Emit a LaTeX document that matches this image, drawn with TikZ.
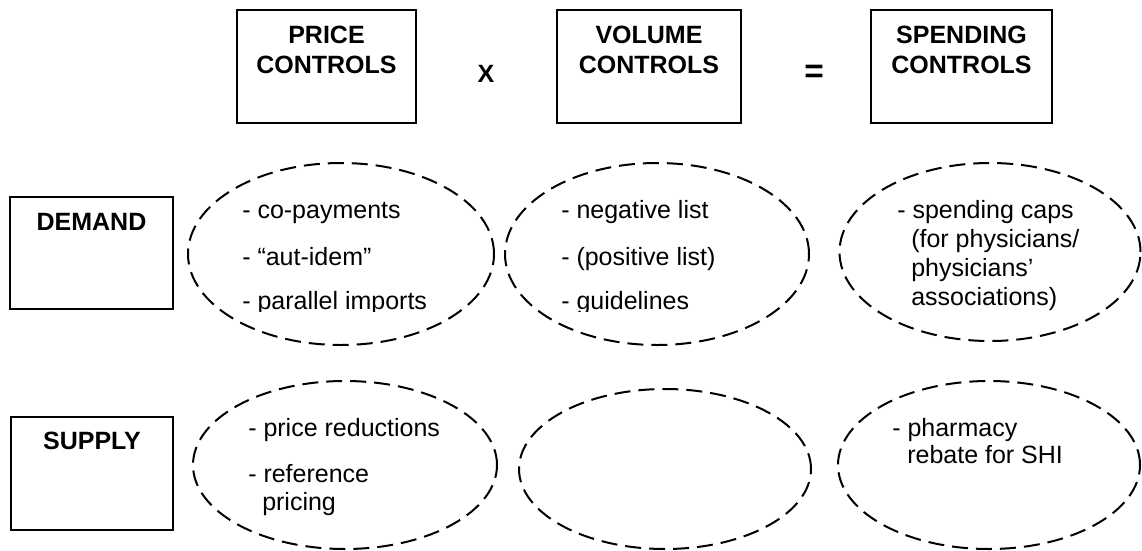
\documentclass[tikz,border=0pt]{standalone}
\usepackage{fontspec}
\setmainfont{Liberation Sans}
\usetikzlibrary{shapes.geometric}
\tikzset{
  box/.style={draw, line width=1.6pt, rectangle, inner sep=0pt, outer sep=0pt},
  ell/.style={draw, line width=1.5pt, ellipse, inner sep=0pt, outer sep=0pt, dash pattern=on 12pt off 6pt},
  txt/.style={anchor=base west, inner sep=0pt, font=\fontsize{18.75}{22}\selectfont},
  hdr/.style={anchor=base, inner sep=0pt, font=\fontsize{18.75}{22}\selectfont\bfseries}
}
\begin{document}
\begin{tikzpicture}[x=0.75pt,y=-0.75pt]
\useasboundingbox (0,0) rectangle (1142,550);
% top boxes
\node[box, minimum width=134.25pt, minimum height=84.75pt] (price) at (326.5,66.5) {};
\node[box, minimum width=138pt, minimum height=84.75pt] (volume) at (649,66.5) {};
\node[box, minimum width=135.75pt, minimum height=84.75pt] (spending) at (961.5,66.5) {};
\node[hdr] (price1) at (326.5,43) {PRICE};
\node[hdr] (price2) at (326.5,73) {CONTROLS};
\node[hdr] (volume1) at (649,43) {VOLUME};
\node[hdr] (volume2) at (649,73) {CONTROLS};
\node[hdr] (spending1) at (961.5,43) {SPENDING};
\node[hdr] (spending2) at (961.5,73) {CONTROLS};
\node[hdr] (times) at (486,82) {X};
\node[hdr, font=\fontsize{25}{28}\selectfont\bfseries] (equals) at (814,82) {=};
% row boxes
\node[box, minimum width=122.25pt, minimum height=84pt] (demand) at (91.5,253) {};
\node[hdr] (demandt) at (91.5,230) {DEMAND};
\node[box, minimum width=121.5pt, minimum height=84.75pt] (supply) at (92,473.5) {};
\node[hdr] (supplyt) at (92,449) {SUPPLY};
% ellipses
\node[ell, minimum width=229.5pt, minimum height=136.5pt] (e1) at (341,254) {};
\node[ell, minimum width=228pt, minimum height=136.5pt] (e2) at (657,254) {};
\node[ell, minimum width=225.75pt, minimum height=133.5pt] (e3) at (990,252) {};
\node[ell, minimum width=228pt, minimum height=126pt] (e4) at (345,465) {};
\node[ell, minimum width=219pt, minimum height=120pt] (e5) at (665,469) {};
\node[ell, minimum width=226.5pt, minimum height=126pt] (e6) at (989,465) {};
% texts
\node[txt] (t11) at (242,218) {- co-payments};
\node[txt] (t12) at (242,265) {- “aut-idem”};
\node[txt] (t21) at (561,218) {- negative list};
\node[txt] (t22) at (561,265) {- (positive list)};
\begin{scope}
\clip (150,150) rectangle (830,311.5);
\node[txt] (t13) at (242,309) {- parallel imports};
\node[txt] (t23) at (561,309) {- guidelines};
\end{scope}
\node[txt] (t31) at (897,218) {- spending caps};
\node[txt] (t32) at (911,247) {(for physicians/};
\node[txt] (t33) at (911,276) {physicians’};
\node[txt] (t34) at (911,305) {associations)};
\node[txt] (t41) at (248,436) {- price reductions};
\node[txt] (t42) at (248,482) {- reference};
\node[txt] (t43) at (262,510) {pricing};
\node[txt] (t61) at (892,436) {- pharmacy};
\node[txt] (t62) at (907,463) {rebate for SHI};
\end{tikzpicture}
\end{document}
